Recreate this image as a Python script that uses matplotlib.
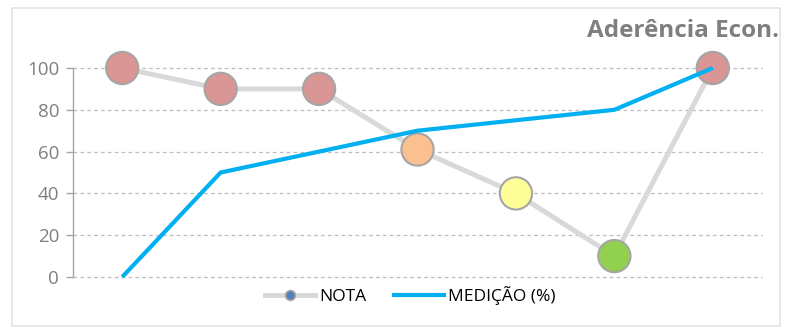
import matplotlib.pyplot as plt
from matplotlib.lines import Line2D
from matplotlib.patches import Rectangle

# data
categories = [1, 2, 3, 4, 5, 6, 7]
nota = [100, 90, 90, 61, 40, 10, 100]
nota_colors = ['#d99694', '#d99694', '#d99694', '#fac090', '#ffff99', '#92d050', '#d99694']
medicao = [0, 50, 60, 70, 75, 80, 100]
yticks = [0, 20, 40, 60, 80, 100]

plt.rcParams['font.family'] = ['Open Sans', 'DejaVu Sans']

fig = plt.figure(figsize=(7.85, 3.3), dpi=100)
fig.patches.append(Rectangle((12/785, 4/330), 768/785, 318/330, transform=fig.transFigure,
                             fill=False, edgecolor='#e3e3e3', linewidth=1.2))
ax = fig.add_axes([73/785, 53/330, (762-73)/785, (277-68)/330])

ax.plot(categories, nota, color='#d9d9d9', linewidth=3.6, zorder=2, clip_on=False)
ax.scatter(categories, nota, s=540, c=nota_colors, edgecolors='#a5a5a5', linewidths=1.5,
           zorder=3, clip_on=False)
ax.plot(categories, medicao, color='#00b0f0', linewidth=3.0, zorder=4, clip_on=False,
        solid_capstyle='butt')

ax.set_xlim(0.5, 7.5)
ax.set_ylim(0, 100)
ax.set_yticks(yticks)
ax.set_xticks([])
for y in yticks:
    ax.axhline(y, color='#bfbfbf', linewidth=0.9, linestyle=(0, (3, 2.5)), zorder=1,
               clip_on=False)

for s in ['top', 'right', 'bottom']:
    ax.spines[s].set_visible(False)
ax.spines['left'].set_color('#a6a6a6')
ax.spines['left'].set_linewidth(1.0)
ax.tick_params(axis='y', colors='#a6a6a6', labelcolor='#7f7f7f', labelsize=13.5,
               length=5, width=1.0, direction='out', pad=5)

fig.text(779/785, 1 - 31/330, 'Aderência Econ.', ha='right', va='center',
         fontsize=17.5, fontweight='bold', color='#7f7f7f')

handles = [
    Line2D([], [], color='#d9d9d9', linewidth=3.6, marker='o', markersize=7,
           markerfacecolor='#4f81bd', markeredgecolor='#a5a5a5', markeredgewidth=1.2),
    Line2D([], [], color='#00b0f0', linewidth=3.0),
]
fig.legend(handles, ['NOTA', 'MEDIÇÃO (%)'], loc='center', bbox_to_anchor=(410/785, 1 - 296/330),
           ncol=2, frameon=False, fontsize=12.5, handlelength=2.9, handletextpad=0.2,
           columnspacing=1.6)

fig.savefig('out.png', dpi=100, facecolor='white')
